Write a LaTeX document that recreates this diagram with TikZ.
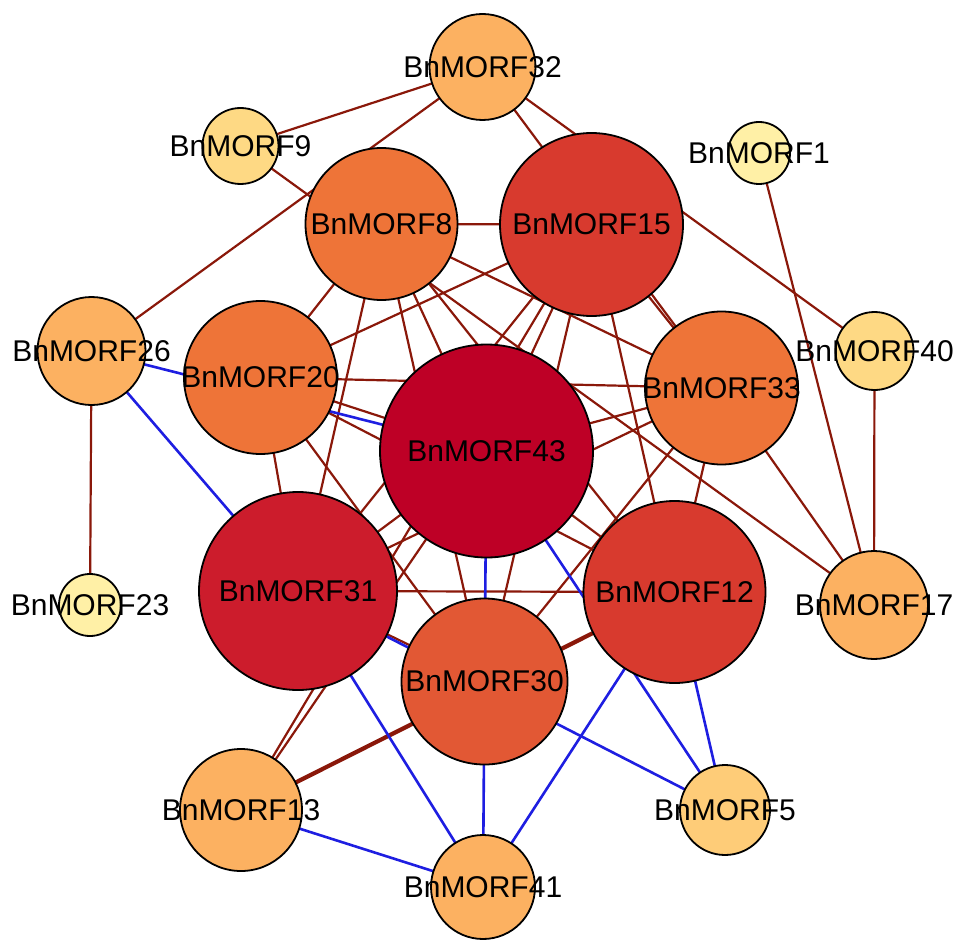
\documentclass[tikz,border=0pt]{standalone}
\usepackage{fontspec}
\setmainfont{Liberation Sans}
\pgfdeclarelayer{bg}
\pgfdeclarelayer{fg}
\pgfsetlayers{bg,main,fg}
\definecolor{edgebrown}{RGB}{138,24,10}
\definecolor{edgeblue}{RGB}{30,30,225}
\definecolor{cA}{RGB}{190,0,38}
\definecolor{cB}{RGB}{204,28,44}
\definecolor{cC}{RGB}{216,58,46}
\definecolor{cD}{RGB}{226,88,52}
\definecolor{cE}{RGB}{238,116,56}
\definecolor{cF}{RGB}{252,177,97}
\definecolor{cG}{RGB}{254,204,120}
\definecolor{cH}{RGB}{254,217,132}
\definecolor{cI}{RGB}{255,240,166}
\begin{document}
\begin{tikzpicture}[x=1pt,y=-1pt,
  gene/.style={circle, draw=black, line width=1.8pt, inner sep=0pt},
  lbl/.style={font=\fontsize{30}{30}\selectfont, inner sep=0pt, text=black},
  br/.style={draw=edgebrown, line width=2.2pt},
  brthick/.style={draw=edgebrown, line width=4.2pt},
  bl/.style={draw=edgeblue, line width=2.6pt}]
\useasboundingbox (0,0) rectangle (957,941);
% nodes
\node[gene, fill=cF, minimum size=106pt] (n32) at (482.5,67) {};
\node[gene, fill=cH, minimum size=76pt]  (n9)  at (240.5,146) {};
\node[gene, fill=cI, minimum size=62pt]  (n1)  at (759,153) {};
\node[gene, fill=cE, minimum size=152pt] (n8)  at (381.5,224) {};
\node[gene, fill=cC, minimum size=183pt] (n15) at (591.5,224.5) {};
\node[gene, fill=cF, minimum size=108pt] (n26) at (91.5,351) {};
\node[gene, fill=cH, minimum size=78pt]  (n40) at (874.5,351) {};
\node[gene, fill=cE, minimum size=153pt] (n20) at (260.5,377.5) {};
\node[gene, fill=cE, minimum size=153pt] (n33) at (721.5,388) {};
\node[gene, fill=cA, minimum size=213pt] (n43) at (486.5,451) {};
\node[gene, fill=cB, minimum size=198pt] (n31) at (298,591) {};
\node[gene, fill=cC, minimum size=182pt] (n12) at (674.5,592) {};
\node[gene, fill=cI, minimum size=62pt]  (n23) at (90,605) {};
\node[gene, fill=cF, minimum size=108pt] (n17) at (874,605) {};
\node[gene, fill=cD, minimum size=166pt] (n30) at (484.5,681.5) {};
\node[gene, fill=cF, minimum size=122pt] (n13) at (241,810) {};
\node[gene, fill=cG, minimum size=90pt]  (n5)  at (725,810) {};
\node[gene, fill=cF, minimum size=104pt] (n41) at (483,887) {};
% edges
\begin{pgfonlayer}{bg}
\foreach \a/\b in {32/9,32/26,32/33,32/40,9/17,1/17,40/17,33/17,26/23,
  13/15,13/43,
  8/15,8/20,8/33,8/43,8/31,8/12,8/30,
  15/20,15/33,15/43,15/31,15/12,15/30,
  20/33,20/43,20/31,20/12,20/30,
  33/43,33/31,33/12,33/30,
  43/31,43/12,31/12,31/30}
  \draw[br] (n\a.center) -- (n\b.center);
\draw[brthick] (n13.center) -- (n12.center);
\foreach \a/\b in {26/43,26/31,43/30,30/41,43/5,12/5,12/41,31/5,31/41,13/41}
  \draw[bl] (n\a.center) -- (n\b.center);
\end{pgfonlayer}
% labels
\begin{pgfonlayer}{fg}
\foreach \n in {32,9,1,8,15,26,40,20,33,43,31,12,23,17,30,13,5,41}
  \node[lbl] (t\n) at (n\n.center) {BnMORF\n};
\end{pgfonlayer}
\end{tikzpicture}
\end{document}
